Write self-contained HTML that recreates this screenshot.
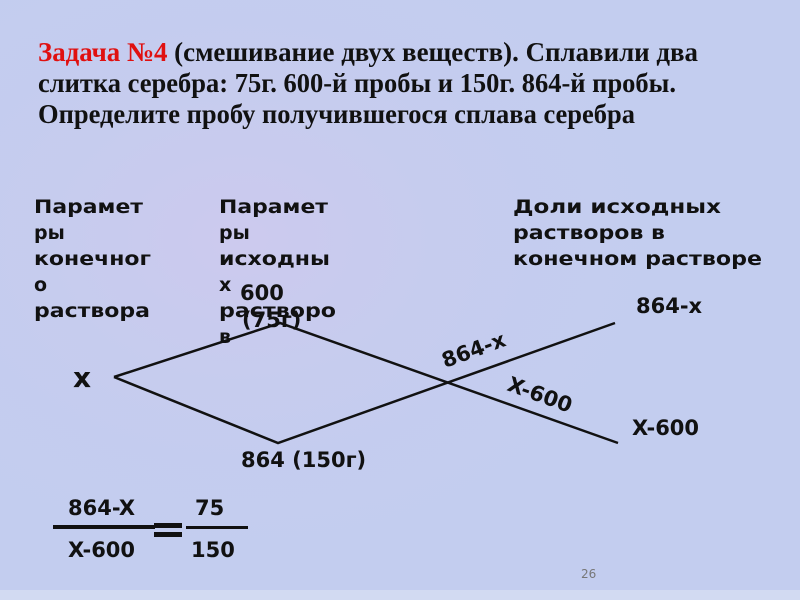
<!DOCTYPE html>
<html><head><meta charset="utf-8"><style>
html,body{margin:0;padding:0;width:800px;height:600px;overflow:hidden;background:#c3cdef;}
svg{display:block}
.t{font-family:"Liberation Serif","Noto Serif CJK SC",serif;font-weight:bold;font-size:27px;fill:#111}
.s{font-family:"DejaVu Sans","Liberation Sans",sans-serif;font-weight:bold;font-size:19px;fill:#111}
.f{font-family:"DejaVu Sans","Liberation Sans",sans-serif;font-weight:bold;font-size:21px;fill:#111}
</style></head><body>
<svg width="800" height="600" viewBox="0 0 800 600" xmlns="http://www.w3.org/2000/svg">
<defs>
<radialGradient id="p1" cx="0.3" cy="0.4" r="0.6"><stop offset="0" stop-color="#d6c6ec"/><stop offset="1" stop-color="#c3cdef" stop-opacity="0"/></radialGradient>
</defs>
<rect width="800" height="600" fill="#c3cdef"/>
<rect width="800" height="600" fill="url(#p1)" opacity="0.5"/>
<rect y="590" width="800" height="10" fill="#d2daf2"/>

<text class="t" x="38" y="61" textLength="660" lengthAdjust="spacingAndGlyphs"><tspan fill="#e01010">Задача №4</tspan> (смешивание двух веществ).  Сплавили два</text>
<text class="t" x="38" y="92" textLength="638" lengthAdjust="spacingAndGlyphs">слитка серебра: 75г. 600-й пробы и 150г. 864-й пробы.</text>
<text class="t" x="38" y="123" textLength="597" lengthAdjust="spacingAndGlyphs">Определите пробу получившегося сплава серебра</text>

<g class="s">
<text x="34" y="213" textLength="109" lengthAdjust="spacingAndGlyphs">Парамет</text>
<text x="34" y="239">ры</text>
<text x="34" y="265" textLength="117" lengthAdjust="spacingAndGlyphs">конечног</text>
<text x="34" y="291">о</text>
<text x="34" y="317" textLength="116" lengthAdjust="spacingAndGlyphs">раствора</text>
<text x="219" y="213" textLength="109" lengthAdjust="spacingAndGlyphs">Парамет</text>
<text x="219" y="239">ры</text>
<text x="219" y="265" textLength="111" lengthAdjust="spacingAndGlyphs">исходны</text>
<text x="219" y="291">х</text>
<text x="219" y="317" textLength="117" lengthAdjust="spacingAndGlyphs">растворо</text>
<text x="219" y="343">в</text>
<text x="513" y="213" textLength="208" lengthAdjust="spacingAndGlyphs">Доли  исходных</text>
<text x="513" y="239" textLength="152" lengthAdjust="spacingAndGlyphs">растворов в</text>
<text x="513" y="265" textLength="249" lengthAdjust="spacingAndGlyphs">конечном растворе</text>
</g>
<text class="f" x="240" y="300">600</text>
<text class="f" x="242" y="327">(75г)</text>

<g stroke="#111" stroke-width="2.5" fill="none">
<polyline points="114,377 280,323 618,443"/>
<polyline points="114,377 278,443 615,323"/>
</g>

<text x="73" y="387" style="font-family:'DejaVu Sans',sans-serif;font-weight:bold;font-size:28px" fill="#111">x</text>
<text class="f" x="636" y="313">864-x</text>
<text class="f" x="632" y="435">X-600</text>
<text class="f" x="241" y="467">864 (150г)</text>
<text class="f" transform="translate(445,368) rotate(-20)">864-x</text>
<text class="f" transform="translate(506,390) rotate(20)">X-600</text>

<text class="f" x="68" y="515">864-X</text>
<text class="f" x="68" y="557">X-600</text>
<text class="f" x="195" y="515">75</text>
<text class="f" x="191" y="557">150</text>
<rect x="53" y="525" width="102" height="4" fill="#111"/>
<rect x="154" y="523" width="28" height="5" fill="#111"/>
<rect x="154" y="532" width="28" height="5" fill="#111"/>
<rect x="186" y="526" width="62" height="3" fill="#111"/>

<text x="581" y="578" style="font-family:'DejaVu Sans',sans-serif;font-size:12px" fill="#777">26</text>
</svg>
</body></html>
